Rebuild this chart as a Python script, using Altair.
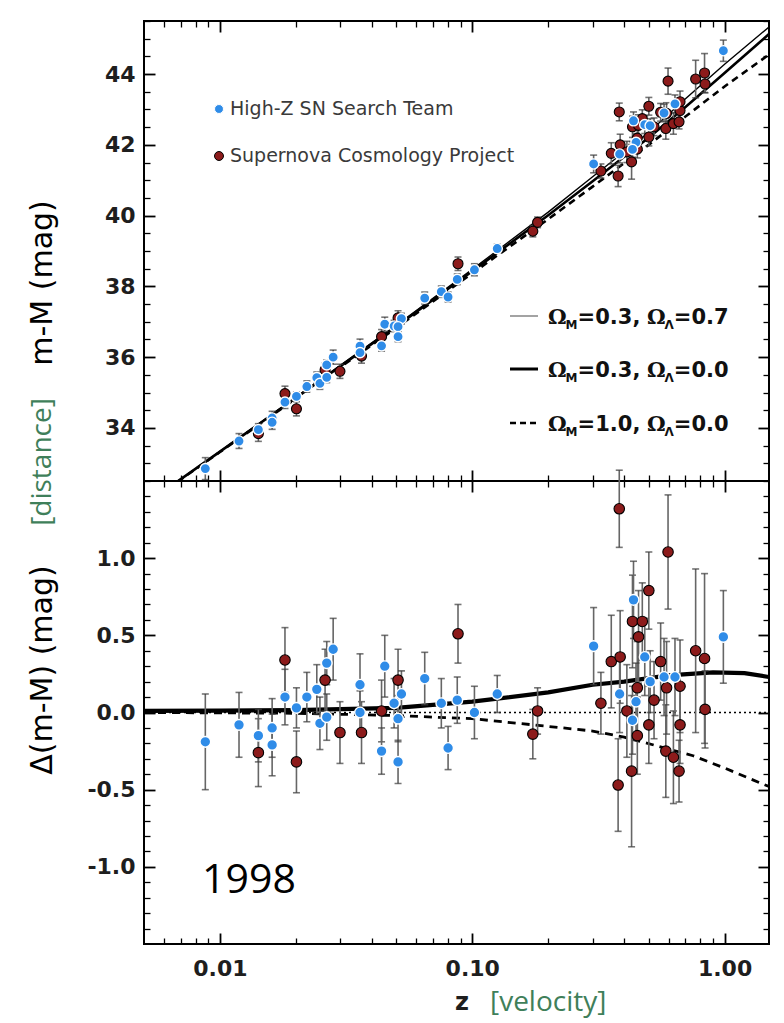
import altair as alt
import pandas as pd

# ------------------------------------------------------------------ data
# High-Z SN Search Team: redshift, distance modulus, residual, error
hz_z = [0.00875, 0.0119, 0.0142, 0.0161, 0.0161, 0.0181, 0.0201, 0.0221, 0.0242, 0.0249,
        0.0265, 0.0265, 0.0281, 0.0359, 0.0359, 0.045, 0.0437, 0.0524, 0.049, 0.0508,
        0.0508, 0.0648, 0.0754, 0.0802, 0.0872, 0.102, 0.1256, 0.3027, 0.4356, 0.4827,
        0.507, 0.5757, 0.636, 0.3837, 0.4457, 0.4315, 0.989]
hz_mu = [32.85, 33.63, 33.95, 34.28, 34.16, 34.73, 34.89, 35.17, 35.42, 35.26,
         35.78, 35.43, 36.00, 36.31, 36.13, 36.93, 36.32, 37.09, 36.88, 36.86,
         36.58, 37.67, 37.85, 37.70, 38.20, 38.47, 39.07, 41.46, 42.68, 42.57,
         42.54, 42.90, 43.16, 41.74, 42.07, 41.87, 44.66]
hz_dmu = [-0.19, -0.08, -0.15, -0.10, -0.21, 0.10, 0.03, 0.10, 0.15, -0.07,
          0.32, -0.03, 0.41, 0.18, 0.00, 0.30, -0.25, 0.12, 0.06, -0.04,
          -0.32, 0.22, 0.06, -0.23, 0.08, 0.00, 0.12, 0.43, 0.73, 0.36,
          0.20, 0.23, 0.23, 0.12, 0.07, -0.05, 0.49]
hz_err = [0.31, 0.21, 0.17, 0.19, 0.20, 0.18, 0.13, 0.16, 0.16, 0.17,
          0.14, 0.15, 0.20, 0.20, 0.14, 0.20, 0.15, 0.15, 0.16, 0.15,
          0.14, 0.17, 0.16, 0.14, 0.15, 0.17, 0.12, 0.25, 0.25, 0.25,
          0.20, 0.25, 0.25, 0.25, 0.25, 0.22, 0.30]

# Supernova Cosmology Project
scp_z = [0.0142, 0.0181, 0.0201, 0.0261, 0.0299, 0.0364, 0.0437, 0.0508, 0.0878, 0.1815,
         0.1738, 0.3235, 0.3556, 0.3856, 0.4315, 0.472, 0.456, 0.501, 0.597, 0.3825,
         0.768, 0.833, 0.837, 0.451, 0.451, 0.5254, 0.501, 0.585, 0.627, 0.666,
         0.66, 0.3785, 0.428, 0.589, 0.666, 0.41, 0.558]
scp_mu = [33.84, 34.97, 34.54, 35.64, 35.60, 36.03, 36.58, 37.11, 38.64, 39.81,
          39.56, 41.26, 41.76, 42.00, 42.51, 42.74, 42.55, 43.09, 43.80, 42.93,
          43.86, 44.03, 43.72, 42.19, 41.88, 42.51, 42.22, 42.46, 42.60, 42.97,
          42.65, 41.12, 41.52, 42.89, 43.22, 41.80, 42.92]
scp_dmu = [-0.26, 0.34, -0.32, 0.21, -0.13, -0.13, 0.01, 0.21, 0.51, 0.01,
           -0.14, 0.06, 0.33, 0.36, 0.59, 0.59, 0.49, 0.79, 1.04, 1.32,
           0.40, 0.35, 0.02, 0.16, -0.15, 0.08, -0.08, -0.25, -0.29, -0.08,
           -0.38, -0.47, -0.38, 0.16, 0.17, 0.01, 0.33]
scp_err = [0.22, 0.21, 0.20, 0.20, 0.20, 0.20, 0.20, 0.20, 0.19, 0.15,
           0.16, 0.20, 0.30, 0.30, 0.30, 0.25, 0.30, 0.25, 0.37, 0.25,
           0.53, 0.55, 0.25, 0.30, 0.25, 0.25, 0.25, 0.30, 0.30, 0.25,
           0.20, 0.30, 0.49, 0.30, 0.30, 0.30, 0.25]

# model curves, top panel (m-M)
mod_z = [0.0068, 0.01, 0.02, 0.05, 0.1, 0.2, 0.3, 0.5, 0.7, 1.0, 1.5]
mod_lam = [32.49, 33.34, 34.87, 36.90, 38.48, 40.10, 41.10, 42.35, 43.30, 44.28, 45.33]
mod_m03 = [32.49, 33.33, 34.85, 36.87, 38.43, 40.01, 40.97, 42.20, 43.07, 44.03, 45.13]
mod_m10 = [32.48, 33.32, 34.83, 36.83, 38.37, 39.90, 40.82, 42.00, 42.80, 43.65, 44.55]

# model curves, bottom panel (residuals)
res_lam_z = [0.005, 0.01, 0.02, 0.05, 0.1, 0.2, 0.3, 0.4, 0.6, 0.9, 1.2, 1.5]
res_lam = [0.01, 0.012, 0.015, 0.03, 0.07, 0.13, 0.18, 0.20, 0.24, 0.26, 0.255, 0.23]
res_m10_z = [0.005, 0.02, 0.05, 0.1, 0.2, 0.3, 0.4, 0.55, 0.75, 1.0, 1.5]
res_m10 = [0.0, -0.005, -0.02, -0.04, -0.09, -0.12, -0.16, -0.22, -0.28, -0.36, -0.48]
res_zero_z = [0.005, 1.5]
res_zero = [0.0, 0.0]

# ticks
x_major = [0.01, 0.1, 1.0]
x_minor = [0.006, 0.007, 0.008, 0.009, 0.02, 0.03, 0.04, 0.05, 0.06, 0.07, 0.08, 0.09,
           0.2, 0.3, 0.4, 0.5, 0.6, 0.7, 0.8, 0.9]
uy_major = [34, 36, 38, 40, 42, 44]
uy_minor = [32.5, 33.0, 33.5, 34.5, 35.0, 35.5, 36.5, 37.0, 37.5, 38.5, 39.0, 39.5,
            40.5, 41.0, 41.5, 42.5, 43.0, 43.5, 44.5, 45.0, 45.5]
ly_major = [-1.0, -0.5, 0.0, 0.5, 1.0]
ly_minor = [-1.4, -1.3, -1.2, -1.1, -0.9, -0.8, -0.7, -0.6, -0.4, -0.3, -0.2, -0.1,
            0.1, 0.2, 0.3, 0.4, 0.6, 0.7, 0.8, 0.9, 1.1, 1.2, 1.3, 1.4]

# ------------------------------------------------------------------ style
BLUE = '#2f8ce8'
RED = '#8c1b1b'
GREEN = '#3f7f5a'
BAR = '#666666'
XS = alt.Scale(type='log', domain=[0.005, 1.5], nice=False)
YU = alt.Scale(domain=[32.5, 45.5], nice=False, zero=False)
YL = alt.Scale(domain=[-1.5, 1.5], nice=False, zero=False)
W, HU, HL = 625, 460, 463


def tick_axis(orient, values, major, labels=None, pad=9):
    size = 11 if major else 6
    kw = dict(orient=orient, values=values, tickSize=size, offset=-size, domain=False,
              grid=False, title=None, ticks=True, tickColor='black',
              tickWidth=1.8 if major else 1.3)
    if labels is None:
        kw['labels'] = False
    else:
        kw.update(labels=True, labelExpr=labels, labelFont='DejaVu Sans', labelFontSize=22,
                  labelFontWeight='bold', labelColor='#1e1e1e', labelPadding=pad,
                  labelFlush=False, labelOverlap=False, labelBound=False)
    return alt.Axis(**kw)


def X(field, ax=None):
    return alt.X(field, type='quantitative', scale=XS, axis=ax)


def Y(field, scale, ax=None):
    return alt.Y(field, type='quantitative', scale=scale, axis=ax)


one = pd.DataFrame({'k': [0]})
hz_df = pd.DataFrame({'z': hz_z, 'mu': hz_mu, 'd': hz_dmu, 'e': hz_err})
scp_df = pd.DataFrame({'z': scp_z, 'mu': scp_mu, 'd': scp_dmu, 'e': scp_err})
for df in (hz_df, scp_df):
    df['mu_lo'] = df['mu'] - df['e']
    df['mu_hi'] = df['mu'] + df['e']
    df['d_lo'] = df['d'] - df['e']
    df['d_hi'] = df['d'] + df['e']

mod_df = pd.DataFrame({'z': mod_z, 'lam': mod_lam, 'm03': mod_m03, 'm10': mod_m10})
rl_df = pd.DataFrame({'z': res_lam_z, 'v': res_lam})
rm_df = pd.DataFrame({'z': res_m10_z, 'v': res_m10})
r0_df = pd.DataFrame({'z': res_zero_z, 'v': res_zero})


def text(txt, x, y, **kw):
    return alt.Chart(one).mark_text(text=txt, **kw).encode(x=alt.value(x), y=alt.value(y))


def data_layers(lo, hi, val, scale, ax_bar_x, ax_bar_y, psize):
    out = []
    for i, df in enumerate((scp_df, hz_df)):
        bx = ax_bar_x if i == 0 else None
        by = ax_bar_y if i == 0 else None
        out.append(alt.Chart(df).mark_rule(color=BAR, strokeWidth=1.6).encode(
            x=X('z', bx), y=Y(lo, scale, by), y2=alt.Y2(hi)))
        out.append(alt.Chart(df).transform_fold([lo, hi], as_=['end', 'v']).mark_tick(
            orient='horizontal', size=7, thickness=1.6, color='#3c3c3c').encode(
            x=X('z'), y=Y('v', scale)))
    out.append(alt.Chart(scp_df).mark_circle(size=psize, color=RED, opacity=1, stroke='black',
                                             strokeWidth=1.1).encode(x=X('z'), y=Y(val, scale)))
    out.append(alt.Chart(hz_df).mark_circle(size=psize + 5, color=BLUE, opacity=1, stroke='white',
                                            strokeWidth=1.4).encode(x=X('z'), y=Y(val, scale)))
    return out


# ------------------------------------------------------------------ top panel
u_layers = [
    alt.Chart(mod_df).mark_line(color='black', strokeWidth=1.4, clip=True).encode(
        x=X('z', tick_axis('bottom', x_major, True)),
        y=Y('lam', YU, tick_axis('left', uy_major, True, "format(datum.value, 'd')"))),
    alt.Chart(mod_df).mark_line(color='black', strokeWidth=2.6, clip=True).encode(
        x=X('z', tick_axis('bottom', x_minor, False)),
        y=Y('m03', YU, tick_axis('left', uy_minor, False))),
    alt.Chart(mod_df).mark_line(color='black', strokeWidth=2.6, strokeDash=[7, 5], clip=True).encode(
        x=X('z', tick_axis('top', x_major, True)),
        y=Y('m10', YU, tick_axis('right', uy_major, True))),
]
u_layers += data_layers('mu_lo', 'mu_hi', 'mu', YU,
                        tick_axis('top', x_minor, False), tick_axis('right', uy_minor, False), 100)

# team legend
u_layers.append(alt.Chart(one).mark_circle(size=80, color=BLUE, opacity=1, stroke='white',
                                           strokeWidth=1).encode(x=alt.value(75), y=alt.value(88)))
u_layers.append(alt.Chart(one).mark_circle(size=80, color=RED, opacity=1, stroke='black',
                                           strokeWidth=1).encode(x=alt.value(75), y=alt.value(135)))
u_layers.append(text('High-Z SN Search Team', 86, 88, font='DejaVu Sans', fontSize=19,
                     align='left', baseline='middle', color='#3a3a3a'))
u_layers.append(text('Supernova Cosmology Project', 86, 135, font='DejaVu Sans', fontSize=19,
                     align='left', baseline='middle', color='#3a3a3a'))

# model legend
OM_X0 = 404
model_rows = [(295, '0.3', '0.7', '#8c8c8c', 1.6, None),
              (348, '0.3', '0.0', 'black', 3.0, None),
              (402, '1.0', '0.0', 'black', 2.6, [6, 4])]
for yc, a, b, col, sw, dash in model_rows:
    rkw = dict(color=col, strokeWidth=sw)
    if dash:
        rkw['strokeDash'] = dash
    u_layers.append(alt.Chart(one).mark_rule(**rkw).encode(
        x=alt.value(OM_X0 - 38), x2=alt.value(OM_X0 - 10), y=alt.value(yc)))
    yb = yc + 8
    big = dict(fontSize=21, fontWeight='bold', align='left', baseline='alphabetic', color='#111111')
    sub = dict(fontSize=12, fontWeight='bold', align='left', baseline='alphabetic', color='#111111')
    u_layers += [
        text('Ω', OM_X0, yb, font='DejaVu Serif', **big),
        text('M', OM_X0 + 17.6, yb + 5, font='DejaVu Sans', **sub),
        text('=' + a + ',', OM_X0 + 29.6, yb, font='DejaVu Sans', **big),
        text('Ω', OM_X0 + 98.9, yb, font='DejaVu Serif', **big),
        text('Λ', OM_X0 + 116.5, yb + 5, font='DejaVu Sans', **sub),
        text('=' + b, OM_X0 + 125.8, yb, font='DejaVu Sans', **big),
    ]

# y titles (left side)
u_layers.append(text('m-M (mag)', -101, 262, font='DejaVu Sans', fontSize=30, angle=270,
                     align='center', baseline='middle', color='black'))
u_layers.append(text('[distance]', -101, 441, font='Open Sans', fontSize=28, angle=270,
                     align='center', baseline='middle', color=GREEN))

upper = alt.layer(*u_layers).resolve_axis(x='independent', y='independent').properties(
    width=W, height=HU)

# ------------------------------------------------------------------ bottom panel
minus_fix = "replace(format(datum.value, '.1f'), '\u2212', '-')"
l_layers = [
    alt.Chart(r0_df).mark_line(color='black', strokeWidth=1.6, strokeDash=[2, 3], clip=True).encode(
        x=X('z', tick_axis('bottom', x_major, True, "format(datum.value, '.2f')", pad=14)),
        y=Y('v', YL, tick_axis('left', ly_major, True, minus_fix))),
    alt.Chart(rm_df).mark_line(color='black', strokeWidth=2.8, strokeDash=[8, 6], clip=True).encode(
        x=X('z', tick_axis('bottom', x_minor, False)),
        y=Y('v', YL, tick_axis('left', ly_minor, False))),
    alt.Chart(rl_df).mark_line(color='black', strokeWidth=4.2, clip=True).encode(
        x=X('z', tick_axis('top', x_major, True)),
        y=Y('v', YL, tick_axis('right', ly_major, True))),
]
l_layers += data_layers('d_lo', 'd_hi', 'd', YL,
                        tick_axis('top', x_minor, False), tick_axis('right', ly_minor, False), 110)
l_layers.append(text('1998', 105, 400, font='Open Sans', fontSize=41, align='center',
                     baseline='middle', color='black'))
l_layers.append(text('Δ(m-M) (mag)', -101, 189, font='DejaVu Sans', fontSize=30, angle=270,
                     align='center', baseline='middle', color='black'))
l_layers.append(text('z', 318, 522, font='DejaVu Sans', fontSize=24, fontWeight='bold',
                     align='center', baseline='middle', color='#1e1e1e'))
l_layers.append(text('[velocity]', 346, 522, font='Open Sans', fontSize=28,
                     align='left', baseline='middle', color=GREEN))

lower = alt.layer(*l_layers).resolve_axis(x='independent', y='independent').properties(
    width=W, height=HL)

chart = alt.vconcat(upper, lower, spacing=0, bounds='flush').properties(
    padding={'left': 27, 'top': 19, 'right': 10, 'bottom': 2}, background='white'
).configure_view(stroke='black', strokeWidth=2)

chart.save('out.html', embed_options={'renderer': 'svg', 'actions': False})
